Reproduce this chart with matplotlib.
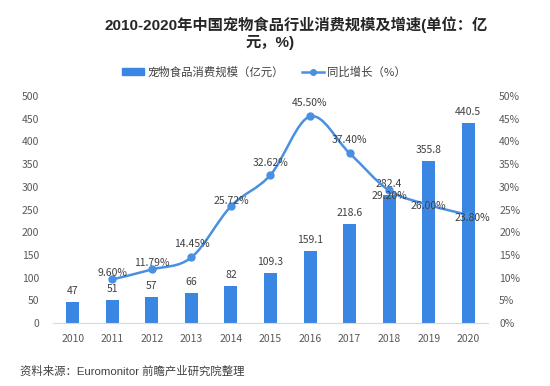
import numpy as np
import matplotlib
matplotlib.use("Agg")
import matplotlib.pyplot as plt
from matplotlib.path import Path
from matplotlib.patches import PathPatch
from matplotlib.lines import Line2D
from matplotlib.patches import Patch

plt.rcParams['font.family'] = ['Noto Sans CJK SC', 'DejaVu Sans']

# 数据
years = ['2010', '2011', '2012', '2013', '2014', '2015', '2016', '2017', '2018', '2019', '2020']
scale = [47, 51, 57, 66, 82, 109.3, 159.1, 218.6, 282.4, 355.8, 440.5]
growth_years = years[1:]
growth = [9.60, 11.79, 14.45, 25.72, 32.62, 45.50, 37.40, 29.20, 26.00, 23.80]

# 标签偏移 (pt)
growth_dy = [4.3, 4.7, 10, 3.6, 8.6, 10, 9.4, -4.3, -0.7, -2.2]
growth_dx = [0, 0, 0, 0, 0, 0, 0, 0, 0, 3]

bar_color = '#3a86e3'
line_color = '#4a90e2'
text_color = '#404040'
latin_cjk = ['Liberation Sans', 'Noto Sans CJK SC']

fig = plt.figure(figsize=(5.5, 3.86), dpi=100)
ax = fig.add_axes([53 / 550, 1 - 323 / 386, 435 / 550, 227 / 386])
ax2 = ax.twinx()

x = np.arange(len(years))
ax.bar(x, scale, width=0.33, color=bar_color, zorder=2)
for xi, v in zip(x, scale):
    ax.annotate(f'{v:g}', (xi, v), xytext=(0, 8), textcoords='offset points',
                ha='center', va='center', fontsize=7.5, color=text_color)

ax.set_xlim(-0.5, len(years) - 0.5)
ax.set_ylim(0, 500)
ax.set_yticks(np.arange(0, 501, 50))
ax.set_xticks(x)
ax.set_xticklabels(years)

ax2.set_ylim(0, 50)
ax2.set_yticks(np.arange(0, 51, 5))
ax2.set_yticklabels([f'{v}%' for v in range(0, 51, 5)])

for a in (ax, ax2):
    for s in ['top', 'right', 'left', 'bottom']:
        a.spines[s].set_visible(False)
    a.tick_params(length=0, labelsize=7.5, colors='#595959')
ax.spines['bottom'].set_visible(True)
ax.spines['bottom'].set_color('#d9d9d9')
ax.tick_params(axis='x', pad=8)
ax.tick_params(axis='y', pad=10)
ax2.tick_params(axis='y', pad=8)

# 平滑曲线 (Catmull-Rom -> Bezier)
gx = np.array([years.index(y) for y in growth_years], dtype=float)
gy = np.array(growth, dtype=float)
pts = np.column_stack([gx, gy])
ext = np.vstack([pts[0], pts, pts[-1]])
verts = [tuple(pts[0])]
codes = [Path.MOVETO]
for i in range(1, len(ext) - 2):
    p0, p1, p2, p3 = ext[i - 1], ext[i], ext[i + 1], ext[i + 2]
    c1 = p1 + (p2 - p0) / 6
    c2 = p2 - (p3 - p1) / 6
    verts += [tuple(c1), tuple(c2), tuple(p2)]
    codes += [Path.CURVE4] * 3
ax2.add_patch(PathPatch(Path(verts, codes), fill=False, edgecolor=line_color,
                        lw=1.8, zorder=3))
ax2.plot(gx, gy, 'o', color=line_color, markersize=5, zorder=4)
for xi, v, dx, dy in zip(gx, gy, growth_dx, growth_dy):
    ax2.annotate(f'{v:.2f}%', (xi, v), xytext=(dx, dy), textcoords='offset points',
                 ha='center', va='center', fontsize=7.5, color=text_color, zorder=5)

# 标题
fig.text(296 / 550, 1 - 24.5 / 386, '2010-2020年中国宠物食品行业消费规模及增速(单位：亿',
         ha='center', va='center', fontsize=11, fontweight='bold', color='#262626',
         family=latin_cjk)
fig.text(270 / 550, 1 - 42 / 386, '元，%)',
         ha='center', va='center', fontsize=11, fontweight='bold', color='#262626',
         family=latin_cjk)

# 图例
handles = [Patch(color=bar_color),
           Line2D([0], [0], color=line_color, lw=1.8, marker='o', markersize=4)]
fig.legend(handles, ['宠物食品消费规模（亿元）', '同比增长（%）'], ncol=2,
           loc='center', bbox_to_anchor=(264 / 550, 1 - 72 / 386), frameon=False,
           fontsize=8.2, handlelength=1.9, handletextpad=0.3, columnspacing=1.6,
           labelcolor=text_color, handleheight=0.5)

fig.text(20 / 550, 1 - 371 / 386, '资料来源：Euromonitor 前瞻产业研究院整理',
         ha='left', va='center', fontsize=8.2, color=text_color, family=latin_cjk)

fig.savefig('out.png', dpi=100)
